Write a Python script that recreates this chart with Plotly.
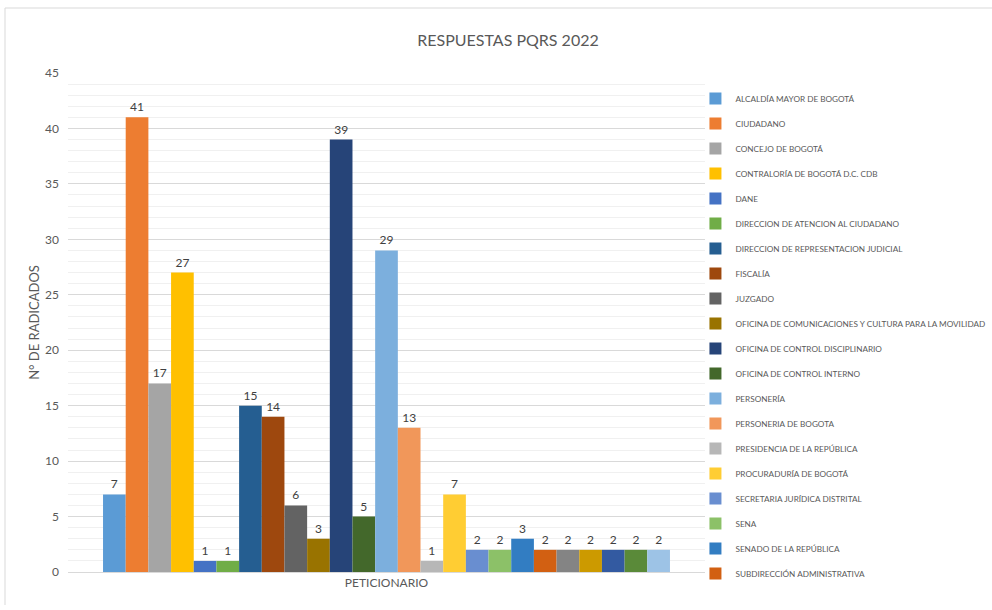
import plotly.graph_objects as go

category = ["PETICIONARIO"]
names = [
    "ALCALDÍA MAYOR DE BOGOTÁ",
    "CIUDADANO",
    "CONCEJO DE BOGOTÁ",
    "CONTRALORÍA DE BOGOTÁ D.C. CDB",
    "DANE",
    "DIRECCION DE ATENCION AL CIUDADANO",
    "DIRECCION DE REPRESENTACION JUDICIAL",
    "FISCALÍA",
    "JUZGADO",
    "OFICINA DE COMUNICACIONES Y CULTURA PARA LA MOVILIDAD",
    "OFICINA DE CONTROL DISCIPLINARIO",
    "OFICINA DE CONTROL INTERNO",
    "PERSONERÍA",
    "PERSONERIA DE BOGOTA",
    "PRESIDENCIA DE LA REPÚBLICA",
    "PROCURADURÍA DE BOGOTÁ",
    "SECRETARIA JURÍDICA DISTRITAL",
    "SENA",
    "SENADO DE LA REPÚBLICA",
    "SUBDIRECCIÓN ADMINISTRATIVA",
    "PETICIONARIO 21",
    "PETICIONARIO 22",
    "PETICIONARIO 23",
    "PETICIONARIO 24",
    "PETICIONARIO 25",
]
values = [7, 41, 17, 27, 1, 1, 15, 14, 6, 3, 39, 5, 29, 13, 1, 7, 2, 2, 3, 2, 2, 2, 2, 2, 2]
colors = [
    "#5B9BD5", "#ED7D31", "#A5A5A5", "#FFC000", "#4472C4", "#70AD47",
    "#255E91", "#9E480E", "#636363", "#997300", "#264478", "#43682B",
    "#7CAFDD", "#F1975A", "#B7B7B7", "#FFCD33", "#698ED0", "#8CC168",
    "#327DC2", "#D26012", "#848484", "#CC9A00", "#335AA1", "#5A8A39",
    "#9DC3E6",
]
legend_count = 20

FONT = "Lato, Liberation Sans, sans-serif"
GRAY = "#595959"

fig = go.Figure()
for i, (n, v, c) in enumerate(zip(names, values, colors)):
    fig.add_trace(go.Bar(
        x=category, y=[v], name=n, marker_color=c, marker_line_width=0,
        text=[v], textposition="outside", cliponaxis=False,
        textfont=dict(size=12, color="#404040", family=FONT),
        legendgroup=f"g{i}", showlegend=i < legend_count,
    ))

fig.update_layout(
    width=992, height=610,
    margin=dict(l=68, r=287, t=73, b=38, autoexpand=False),
    paper_bgcolor="white", plot_bgcolor="white",
    barmode="group", bargap=0.11, bargroupgap=0,
    font=dict(family=FONT, color=GRAY, size=12),
    title=dict(text="RESPUESTAS PQRS 2022", x=508 / 992, xanchor="center",
               y=1 - 40 / 610, yanchor="middle",
               font=dict(size=16, color=GRAY, family=FONT)),
    legend=dict(x=0.985, xanchor="left", y=1 - (84 - 73) / 499, yanchor="top",
                traceorder="grouped", tracegroupgap=6, maxheight=800,
                font=dict(size=8.2, color=GRAY, family=FONT),
                itemwidth=30, bgcolor="rgba(0,0,0,0)"),
    showlegend=True,
)
fig.update_yaxes(
    range=[0, 45], dtick=5, tick0=0,
    showgrid=True, gridcolor="#D9D9D9", gridwidth=1,
    minor=dict(dtick=1, showgrid=True, gridcolor="#F0F0F0", gridwidth=1),
    zeroline=False, showline=False, ticks="", ticklabelstandoff=8,
    tickfont=dict(size=12, color=GRAY, family=FONT),
    title=dict(text="N° DE RADICADOS", font=dict(size=13, color=GRAY, family=FONT), standoff=2),
)
fig.update_xaxes(
    showline=True, linecolor="#D9D9D9", linewidth=1, ticks="",
    tickfont=dict(size=12, color=GRAY, family=FONT),
)
fig.add_shape(type="line", xref="paper", yref="paper",
              x0=(5 - 68) / 637, x1=(992 - 68) / 637, y0=(572 - 8) / 499, y1=(572 - 8) / 499,
              line=dict(color="#D9D9D9", width=1))
fig.add_shape(type="line", xref="paper", yref="paper",
              x0=(5 - 68) / 637, x1=(5 - 68) / 637, y0=(572 - 8) / 499, y1=(572 - 605) / 499,
              line=dict(color="#D9D9D9", width=1))

fig.write_html("out.html")
